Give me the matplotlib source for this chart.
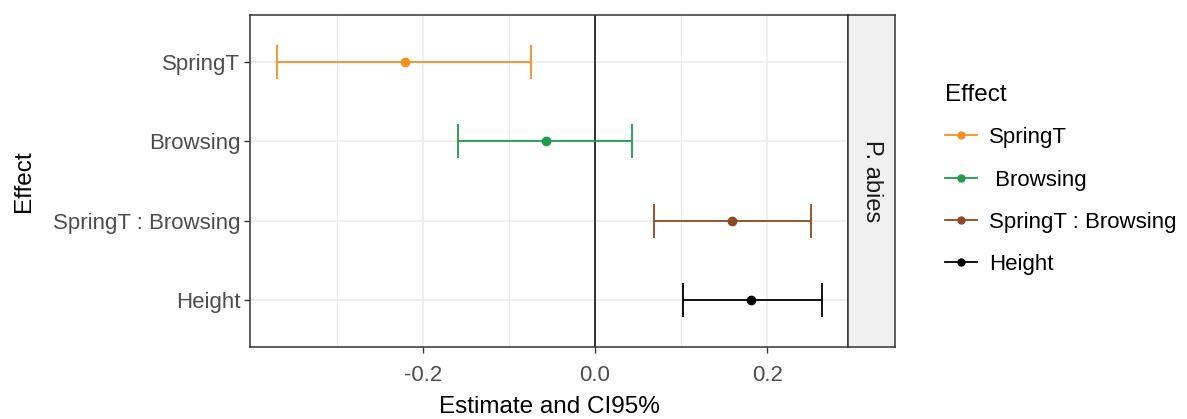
import numpy as np
import matplotlib
matplotlib.use("Agg")
import matplotlib.pyplot as plt
from matplotlib.lines import Line2D

plt.rcParams['font.family'] = ['Liberation Sans', 'DejaVu Sans']

effects = ["SpringT", "Browsing", "SpringT : Browsing", "Height"]
legend_labels = ["SpringT", " Browsing", "SpringT : Browsing", "Height"]
estimate = [-0.221, -0.057, 0.159, 0.181]
lower = [-0.370, -0.159, 0.069, 0.102]
upper = [-0.074, 0.043, 0.251, 0.264]
colors = ["#F7901E", "#1F9A4C", "#8B4A22", "#000000"]
facet = "P. abies"

W, H = 1187, 419
fig = plt.figure(figsize=(W / 100, H / 100), dpi=100)
ax = fig.add_axes([250 / W, 1 - 347 / H, (848 - 250) / W, (347 - 15) / H])
strip = fig.add_axes([848 / W, 1 - 347 / H, (895 - 848) / W, (347 - 15) / H])

ypos = np.arange(len(effects))[::-1]
for y, e, lo, hi, c in zip(ypos, estimate, lower, upper, colors):
    ax.errorbar(e, y, xerr=[[e - lo], [hi - e]], fmt='o', color=c, ecolor=c,
                markersize=6, elinewidth=1.3, capsize=12, capthick=1.3, zorder=3)

ax.axvline(0, color='#222222', lw=1.3, zorder=2)
ax.set_xlim(-0.401, 0.294)
ax.set_ylim(-0.6, len(effects) - 0.4)
ax.set_yticks(ypos)
ax.set_yticklabels(effects)
ax.set_xticks([-0.2, 0.0, 0.2])
ax.set_xticklabels(["-0.2", "0.0", "0.2"])
ax.set_xticks([-0.3, -0.1, 0.1], minor=True)
ax.grid(True, which='major', color='#EBEBEB', lw=1.1, zorder=0)
ax.grid(True, which='minor', axis='x', color='#EBEBEB', lw=0.7, zorder=0)
ax.set_axisbelow(True)
ax.tick_params(axis='both', which='major', labelsize=16, labelcolor='#4D4D4D',
               color='#333333', length=4, width=1)
ax.tick_params(axis='x', which='major', pad=9)
ax.tick_params(axis='y', which='major', pad=3)
ax.tick_params(axis='x', which='minor', length=0)
for s in ax.spines.values():
    s.set_color('#333333')
    s.set_linewidth(1.1)
ax.set_xlabel("Estimate and CI95%", fontsize=17.5, labelpad=7)
ax.set_ylabel("Effect", fontsize=17.5, labelpad=13)

strip.set_facecolor('#F0F0F0')
strip.set_xticks([])
strip.set_yticks([])
for s in strip.spines.values():
    s.set_color('#333333')
    s.set_linewidth(1.1)
strip.text(0.5, 0.5, facet, rotation=-90, ha='center', va='center',
           fontsize=17, color='#1A1A1A', transform=strip.transAxes)

handles = [Line2D([0], [0], color=c, marker='o', markersize=5, lw=1.3) for c in colors]
leg = fig.legend(handles, legend_labels, title="Effect", loc='upper left',
                 bbox_to_anchor=(936 / W, 1 - 75 / H), frameon=False,
                 fontsize=16, title_fontsize=17.5, handlelength=1.45,
                 handletextpad=0.55, labelspacing=0.96, borderaxespad=0)
leg._legend_box.align = "left"

fig.savefig("out.png", dpi=100)
